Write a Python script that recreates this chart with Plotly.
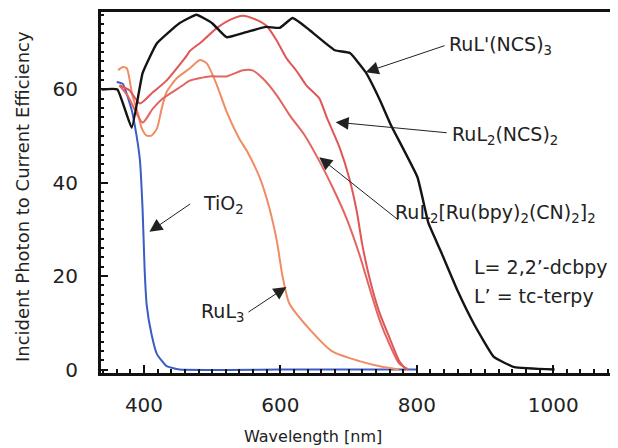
import plotly.graph_objects as go

# ---- data ----
ruLp_ncs3_x = [338, 361, 382, 398, 419, 452, 477, 500, 521, 550, 579, 599, 618, 643, 680, 702, 725, 746, 762, 801, 817, 835, 860, 884, 913, 943, 1002]
ruLp_ncs3_y = [60, 60, 51.8, 63.5, 69.9, 74.2, 76.0, 74.2, 71.2, 72.3, 73.4, 73.2, 75.3, 72.7, 68.4, 67.8, 63.7, 57.7, 52.4, 41.2, 31.4, 25.4, 16.8, 9.7, 2.7, 0.5, 0]

tio2_x = [360, 369, 382, 389, 394, 398, 401, 404, 411, 419, 433, 452, 600, 801]
tio2_y = [61.6, 61.2, 55.6, 50.2, 44.9, 34.2, 21.3, 13.8, 7.6, 3.3, 0.75, 0, 0, 0]

ruL3_x = [362, 369, 375, 383, 391, 397, 404, 411, 419, 426, 433, 448, 467, 482, 492, 507, 521, 540, 551, 570, 584, 595, 603, 613, 643, 676, 716, 749, 774]
ruL3_y = [64.1, 64.8, 64.5, 58.7, 55.0, 51.6, 50.1, 50.1, 51.6, 55.9, 59.4, 62.4, 64.5, 66.3, 65.6, 60.9, 55.3, 49.4, 46.8, 41.0, 34.5, 27.4, 20.1, 14.2, 8.6, 3.9, 1.8, 0.6, 0]

ruL2_ncs2_x = [364, 379, 394, 413, 433, 463, 467, 486, 507, 526, 545, 565, 580, 595, 609, 624, 638, 657, 668, 687, 701, 712, 720, 731, 745, 760, 774, 784]
ruL2_ncs2_y = [60.9, 59.8, 57.0, 59.4, 61.9, 67.3, 68.2, 70.4, 73.2, 74.9, 75.8, 74.9, 73.6, 70.4, 66.7, 63.9, 60.9, 58.1, 54.0, 47.5, 41.0, 33.9, 26.8, 19.4, 12.3, 6.8, 1.9, 0]

ruL2_cn_x = [364, 376, 398, 413, 428, 457, 467, 496, 521, 545, 559, 574, 595, 614, 636, 657, 677, 697, 716, 731, 745, 760, 774, 788]
ruL2_cn_y = [60.9, 58.7, 52.9, 55.9, 58.1, 60.9, 61.9, 62.8, 62.8, 64.1, 64.1, 62.4, 58.7, 54.4, 50.1, 44.7, 38.9, 32.4, 24.6, 17.3, 10.8, 5.4, 1.3, 0]

x_ticks = [400, 600, 800, 1000]
y_ticks = [0, 20, 40, 60]

FONT = "DejaVu Sans"
INK = "#222222"
ANN = 19

fig = go.Figure()
fig.add_trace(go.Scatter(x=tio2_x, y=tio2_y, mode="lines", line=dict(color="#3a5cc4", width=2, shape="spline", smoothing=0.4)))
fig.add_trace(go.Scatter(x=ruL3_x, y=ruL3_y, mode="lines", line=dict(color="#f08c64", width=2, shape="spline", smoothing=0.6)))
fig.add_trace(go.Scatter(x=ruL2_cn_x, y=ruL2_cn_y, mode="lines", line=dict(color="#e46462", width=2, shape="spline", smoothing=0.6)))
fig.add_trace(go.Scatter(x=ruL2_ncs2_x, y=ruL2_ncs2_y, mode="lines", line=dict(color="#e05656", width=2, shape="spline", smoothing=0.6)))
fig.add_trace(go.Scatter(x=ruLp_ncs3_x, y=ruLp_ncs3_y, mode="lines", line=dict(color="#141414", width=2.4, shape="spline", smoothing=0.35)))

# labels: (text, text_x, text_y, tip_x, tip_y, tail_x, tail_y)
labels = [
    ("RuL'(NCS)<sub>3</sub>", 845, 69.5, 725, 63.7, 843, 69.5),
    ("RuL<sub>2</sub>(NCS)<sub>2</sub>", 848, 50.2, 681, 53.0, 846, 50.7),
    ("RuL<sub>2</sub>[Ru(bpy)<sub>2</sub>(CN)<sub>2</sub>]<sub>2</sub>", 765, 33.5, 657, 45.5, 775, 31.8),
    ("TiO<sub>2</sub>", 484, 35.4, 408, 29.5, 470, 35.7),
    ("RuL<sub>3</sub>", 481, 12.3, 609, 17.7, 551, 12.1),
]
for txt, tx, ty, hx, hy, sx, sy in labels:
    fig.add_annotation(x=hx, y=hy, ax=sx, ay=sy, axref="x", ayref="y", xref="x", yref="y",
                       text="", showarrow=True, arrowhead=2, arrowsize=2.6, arrowwidth=1,
                       arrowcolor=INK, standoff=0, startstandoff=0)
    fig.add_annotation(x=tx, y=ty, xref="x", yref="y", text=txt, showarrow=False,
                       xanchor="left", yanchor="middle", font=dict(family=FONT, size=ANN, color=INK))

fig.add_annotation(x=881, y=22.0, xref="x", yref="y", text="L= 2,2’-dcbpy", showarrow=False,
                   xanchor="left", yanchor="middle", font=dict(family=FONT, size=ANN, color=INK))
fig.add_annotation(x=881, y=15.7, xref="x", yref="y", text="L’ = tc-terpy", showarrow=False,
                   xanchor="left", yanchor="middle", font=dict(family=FONT, size=ANN, color=INK))

# axis titles placed as paper annotations
fig.add_annotation(x=0.41, y=-0.177, xref="paper", yref="paper", text="Wavelength [nm]", showarrow=False,
                   xanchor="center", yanchor="middle", font=dict(family=FONT, size=16, color=INK))
fig.add_annotation(x=-0.153, y=0.49, xref="paper", yref="paper", text="Incident Photon to Current Efficiency",
                   showarrow=False, textangle=-90, xanchor="center", yanchor="middle",
                   font=dict(family=FONT, size=18, color=INK))

# page body has an 8px margin, so the figure is 610x440 and offset accordingly
fig.update_layout(
    width=610, height=440,
    margin=dict(l=93, r=0, t=4, b=75, autoexpand=False),
    paper_bgcolor="white", plot_bgcolor="white",
    showlegend=False,
    font=dict(family=FONT, color=INK),
)
fig.update_xaxes(
    range=[337, 1095], tickvals=x_ticks, ticktext=[str(v) for v in x_ticks],
    automargin=False,
    showgrid=False, zeroline=False,
    showline=True, linecolor="#111", linewidth=3, mirror=True,
    ticks="inside", ticklen=8, tickwidth=2, tickcolor="#111",
    minor=dict(dtick=20, tick0=0, ticks="inside", ticklen=4, tickwidth=2, tickcolor="#111"),
    tickfont=dict(family=FONT, size=20, color=INK), ticklabelstandoff=12,
)
fig.update_yaxes(
    range=[-0.75, 76.6], tickvals=y_ticks, ticktext=[str(v) for v in y_ticks],
    automargin=False,
    showgrid=False, zeroline=False,
    showline=True, linecolor="#111", linewidth=3, mirror=False,
    ticks="inside", ticklen=7, tickwidth=2, tickcolor="#111",
    minor=dict(dtick=2, tick0=0, ticks="inside", ticklen=3, tickwidth=1.5, tickcolor="#111"),
    tickfont=dict(family=FONT, size=20, color=INK), ticklabelstandoff=16,
)

fig.write_html("out.html")
